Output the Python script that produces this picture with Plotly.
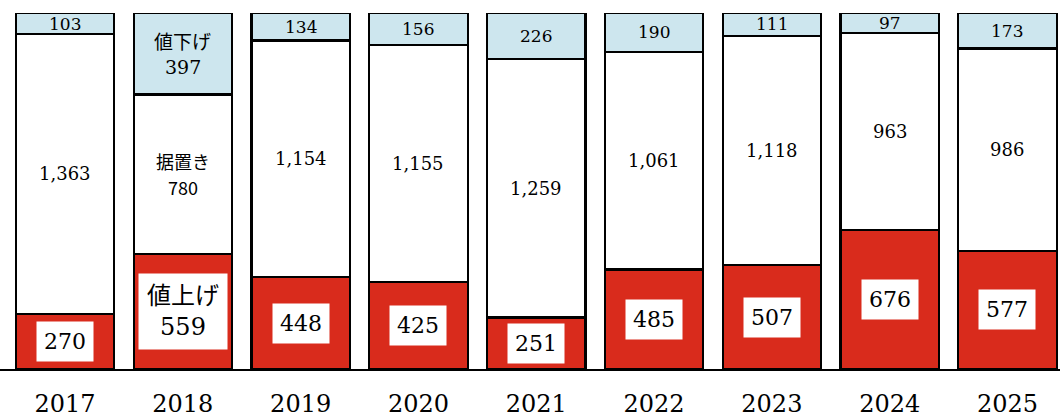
import plotly.graph_objects as go

years = ["2017", "2018", "2019", "2020", "2021", "2022", "2023", "2024", "2025"]
raised = [270, 559, 448, 425, 251, 485, 507, 676, 577]
kept = [1363, 780, 1154, 1155, 1259, 1061, 1118, 963, 986]
lowered = [103, 397, 134, 156, 226, 190, 111, 97, 173]
series_names = ["値上げ", "据置き", "値下げ"]
named_year = "2018"

RED = "#d92b1c"
BLUE = "#cde6ee"
SERIF = "DejaVu Serif"
CJK = "Noto Sans CJK JP"

x = list(range(len(years)))

fig = go.Figure()
for vals, name, color in zip([raised, kept, lowered], series_names, [RED, "white", BLUE]):
    fig.add_trace(go.Bar(
        x=x, y=vals, name=name,
        marker=dict(color=color, line=dict(color="black", width=2.2)),
        hoverinfo="skip",
    ))

annotations = []


def two_line(xi, yc, name, value, size, num_family):
    # name above, value below, as separate texts
    annotations.append(dict(x=xi, y=yc, text=name, showarrow=False, yshift=13,
                            font=dict(family=CJK, size=size, color="black")))
    annotations.append(dict(x=xi, y=yc, text=value, showarrow=False, yshift=-13,
                            font=dict(family=num_family, size=size, color="black")))


for i, yr in enumerate(years):
    r, k, l = raised[i], kept[i], lowered[i]
    named = yr == named_year
    # raised (red) label in white box
    if named:
        annotations.append(dict(
            x=i, y=r / 2, text=f"{series_names[0]}<br>{r:,}", showarrow=False,
            font=dict(family=SERIF + ", " + CJK, size=24, color="black"),
            bgcolor="white", borderpad=8,
        ))
    else:
        annotations.append(dict(
            x=i, y=r / 2, text=f"{r:,}", showarrow=False,
            font=dict(family=SERIF, size=22, color="black"),
            bgcolor="white", borderpad=7,
        ))
    # kept (white) label
    if named:
        two_line(i, r + k / 2, series_names[1], f"{k:,}", 18, CJK)
    else:
        annotations.append(dict(x=i, y=r + k / 2, text=f"{k:,}", showarrow=False,
                                font=dict(family=SERIF, size=18, color="black")))
    # lowered (blue) label
    if named:
        two_line(i, r + k + l / 2, series_names[2], f"{l:,}", 19, SERIF)
    else:
        annotations.append(dict(x=i, y=r + k + l / 2, text=f"{l:,}", showarrow=False,
                                font=dict(family=SERIF, size=17, color="black")))

total = raised[0] + kept[0] + lowered[0]

fig.update_layout(
    barmode="stack",
    bargap=0.165,
    width=1060, height=418,
    margin=dict(l=0, r=0, t=13, b=49),
    paper_bgcolor="white", plot_bgcolor="white",
    showlegend=False,
    annotations=annotations,
    xaxis=dict(
        range=[-0.552, 8.446],
        tickmode="array", tickvals=x, ticktext=years,
        tickfont=dict(family=SERIF, size=24, color="black"),
        ticks="outside", ticklen=12, tickcolor="rgba(0,0,0,0)",
        showline=True, linecolor="black", linewidth=2,
        showgrid=False, zeroline=False, fixedrange=True, automargin=False,
    ),
    yaxis=dict(range=[0, total], visible=False, showgrid=False, fixedrange=True,
               automargin=False),
)

fig.write_html("out.html")
